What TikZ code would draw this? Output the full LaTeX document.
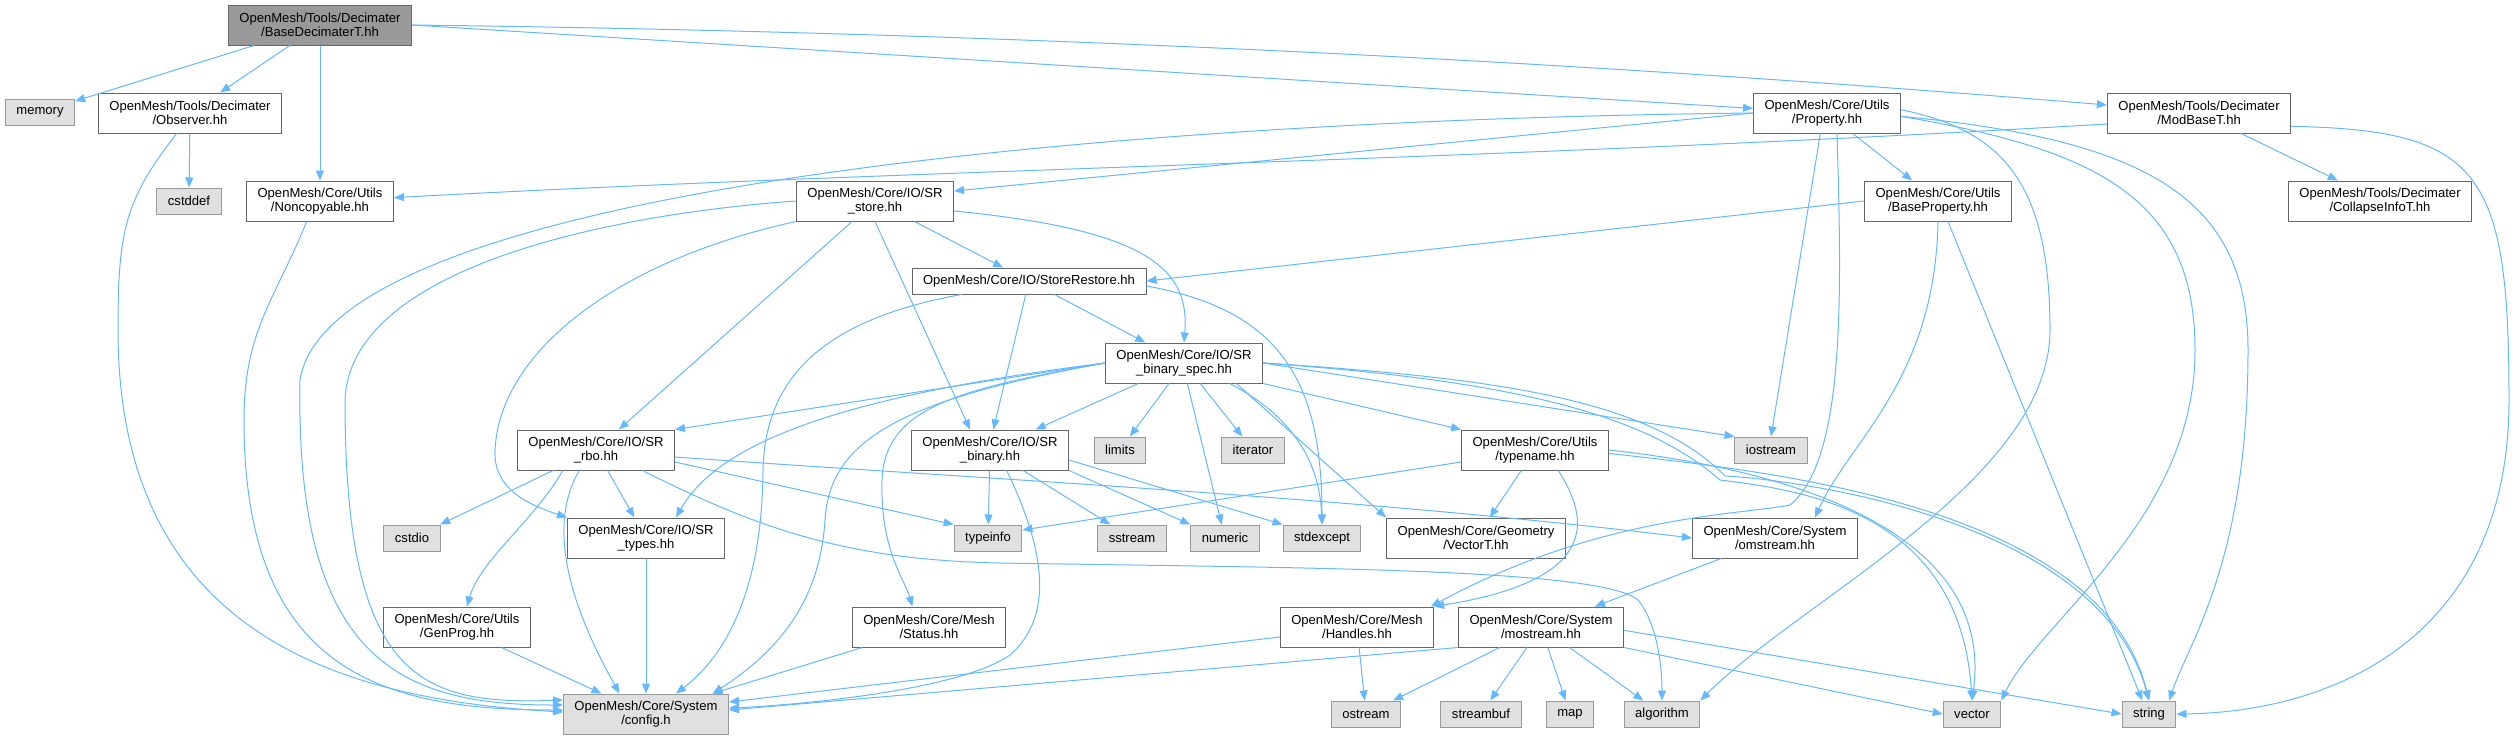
\documentclass[tikz,border=0pt]{standalone}
\usepackage{fontspec}
\setmainfont{Liberation Sans}
\usetikzlibrary{arrows.meta}

\definecolor{depblue}{HTML}{63B8FF}
\definecolor{hdrline}{HTML}{666666}
\definecolor{sysline}{HTML}{999999}
\definecolor{sysfill}{HTML}{E0E0E0}
\definecolor{topfill}{HTML}{999999}

\tikzset{
	header/.style={draw=hdrline, fill=white, line width=0.3mm, align=center,
		inner xsep=3.3mm, inner ysep=0mm, minimum height=12mm,
		font=\fontsize{11.15pt}{12.2pt}\selectfont},
	syshdr/.style={header, draw=sysline, fill=sysfill, minimum height=7.8mm},
	dep/.style={draw=depblue, line width=0.3mm, -{Triangle[length=3mm,width=2.4mm]}}
}

\begin{document}
\begin{tikzpicture}[x=0.3mm, y=-0.3mm]
	\useasboundingbox (0,0) rectangle (2516,740);

	% files
	\node[header, fill=topfill] (base) at (320,25) {OpenMesh/Tools/Decimater\\/BaseDecimaterT.hh};
	\node[syshdr] (memory) at (40,112) {memory};
	\node[header] (observer) at (190,113) {OpenMesh/Tools/Decimater\\/Observer.hh};
	\node[header] (property) at (1827,113) {OpenMesh/Core/Utils\\/Property.hh};
	\node[header] (modbase) at (2199,113) {OpenMesh/Tools/Decimater\\/ModBaseT.hh};
	\node[syshdr] (cstddef) at (189,201) {cstddef};
	\node[header] (noncopy) at (320,201) {OpenMesh/Core/Utils\\/Noncopyable.hh};
	\node[header] (srstore) at (875,201) {OpenMesh/Core/IO/SR\\\_store.hh};
	\node[header] (baseprop) at (1938,201) {OpenMesh/Core/Utils\\/BaseProperty.hh};
	\node[header] (collapse) at (2380,201) {OpenMesh/Tools/Decimater\\/CollapseInfoT.hh};
	\node[header, minimum height=7.8mm] (storerestore) at (1029,281) {OpenMesh/Core/IO/StoreRestore.hh};
	\node[header] (srspec) at (1184,363) {OpenMesh/Core/IO/SR\\\_binary\_spec.hh};
	\node[header] (srrbo) at (596,450) {OpenMesh/Core/IO/SR\\\_rbo.hh};
	\node[header] (srbinary) at (990,450) {OpenMesh/Core/IO/SR\\\_binary.hh};
	\node[syshdr] (limits) at (1120,450) {limits};
	\node[syshdr] (iterator) at (1253,450) {iterator};
	\node[header] (typename) at (1535,450) {OpenMesh/Core/Utils\\/typename.hh};
	\node[syshdr] (iostream) at (1771,450) {iostream};
	\node[syshdr] (cstdio) at (412,538) {cstdio};
	\node[header] (srtypes) at (646,538) {OpenMesh/Core/IO/SR\\\_types.hh};
	\node[syshdr] (typeinfo) at (988,538) {typeinfo};
	\node[syshdr] (sstream) at (1132,538) {sstream};
	\node[syshdr] (numeric) at (1225,538) {numeric};
	\node[syshdr] (stdexcept) at (1322,538) {stdexcept};
	\node[header] (vectort) at (1476,538) {OpenMesh/Core/Geometry\\/VectorT.hh};
	\node[header] (omstream) at (1775,538) {OpenMesh/Core/System\\/omstream.hh};
	\node[header] (genprog) at (457,627) {OpenMesh/Core/Utils\\/GenProg.hh};
	\node[header] (status) at (929,627) {OpenMesh/Core/Mesh\\/Status.hh};
	\node[header] (handles) at (1357,627) {OpenMesh/Core/Mesh\\/Handles.hh};
	\node[header] (mostream) at (1541,627) {OpenMesh/Core/System\\/mostream.hh};
	\node[syshdr, minimum height=12mm] (config) at (646,714) {OpenMesh/Core/System\\/config.h};
	\node[syshdr] (ostream) at (1366,714) {ostream};
	\node[syshdr] (streambuf) at (1481,714) {streambuf};
	\node[syshdr] (map) at (1570,714) {map};
	\node[syshdr] (algorithm) at (1662,714) {algorithm};
	\node[syshdr] (vector) at (1972,714) {vector};
	\node[syshdr] (string) at (2149,714) {string};

	% BaseDecimaterT.hh
	\draw[dep] (base) -- (memory);
	\draw[dep] (base) -- (observer);
	\draw[dep] (base) -- (noncopy);
	\draw[dep] (base.east) -- (property);
	\draw[dep] (base.east) .. controls (977,32) and (1542,58) .. ([yshift=2.4mm]modbase.west);

	% Observer.hh, Noncopyable.hh
	\draw[dep] (observer) -- (cstddef);
	\draw[dep] ([xshift=-4mm]observer.south) .. controls (125,200) and (118,230) .. (118,330)
		.. controls (118,640) and (350,700) .. ([yshift=0.6mm]config.west);
	\draw[dep] ([xshift=-4mm]noncopy.south) .. controls (275,300) and (244,330) .. (244,420)
		.. controls (244,670) and (380,710) .. ([yshift=1.2mm]config.west);

	% Property.hh
	\draw[dep] (property.west) -- ([yshift=3mm]srstore.east);
	\draw[dep] (property) -- (baseprop);
	\draw[dep] (property.west) .. controls (1100,120) and (330,190) .. (300,380)
		.. controls (295,660) and (400,705) .. ([yshift=2.7mm]config.west);
	\draw[dep] ([xshift=-2mm]property.south) -- (iostream.north);
	\draw[dep] ([xshift=3mm]property.south) .. controls (1842,300) and (1845,460) .. (1790,505)
		.. controls (1740,515) and (1600,515) .. ([xshift=-1mm]handles.north east);
	\draw[dep] ([yshift=1mm]property.east) .. controls (2000,130) and (2050,180) .. (2050,330)
		.. controls (2050,480) and (1800,600) .. (algorithm.north east);
	\draw[dep] ([yshift=-1mm]property.east) .. controls (2100,150) and (2195,200) .. (2195,350)
		.. controls (2195,520) and (2040,620) .. (vector.north east);
	\draw[dep] ([yshift=-1mm]property.east) .. controls (2150,140) and (2248,200) .. (2248,350)
		.. controls (2248,560) and (2190,640) .. ([xshift=6mm]string.north);

	% ModBaseT.hh
	\draw[dep] ([yshift=-3.3mm]modbase.west) .. controls (1500,160) and (900,170) .. ([yshift=1mm]noncopy.east);
	\draw[dep] (modbase) -- (collapse);
	\draw[dep] ([yshift=-4mm]modbase.east) .. controls (2480,130) and (2509,170) .. (2509,400)
		.. controls (2509,640) and (2330,712) .. (string.east);

	% SR_store.hh
	\draw[dep] (srstore) -- (storerestore);
	\draw[dep] (srstore) -- (srrbo);
	\draw[dep] (srstore.south) -- ([xshift=-6mm]srbinary.north);
	\draw[dep] ([yshift=-3mm]srstore.east) .. controls (1150,230) and (1190,270) .. (srspec.north);
	\draw[dep] (srstore.south west) .. controls (620,260) and (500,350) .. (495,450)
		.. controls (493,490) and (530,505) .. (srtypes.north west);
	\draw[dep] (srstore.west) .. controls (600,215) and (350,270) .. (345,400)
		.. controls (345,680) and (420,705) .. ([yshift=4.2mm]config.west);

	% BaseProperty.hh
	\draw[dep] (baseprop.west) -- (storerestore.east);
	\draw[dep] (baseprop.south) .. controls (1935,380) and (1850,440) .. ([xshift=12mm]omstream.north);
	\draw[dep] ([xshift=3mm]baseprop.south) -- ([xshift=-2mm]string.north);

	% StoreRestore.hh
	\draw[dep] (storerestore) -- (srspec);
	\draw[dep] (storerestore) -- ([xshift=1mm]srbinary.north);
	\draw[dep] ([xshift=15mm]storerestore.south west) .. controls (820,320) and (765,380) .. (763,470)
		.. controls (762,600) and (720,660) .. ([xshift=9mm]config.north);
	\draw[dep] ([yshift=-1.5mm]storerestore.east) .. controls (1280,310) and (1322,380) .. (stdexcept.north);

	% SR_binary_spec.hh
	\draw[dep] (srspec.west) -- (srrbo.north east);
	\draw[dep] (srspec.west) .. controls (850,395) and (720,440) .. ([xshift=9mm]srtypes.north);
	\draw[dep] (srspec.west) .. controls (900,400) and (830,440) .. (825,520)
		.. controls (820,600) and (780,650) .. ([xshift=20mm]config.north);
	\draw[dep] (srspec.west) .. controls (950,390) and (885,410) .. (882,480)
		.. controls (880,550) and (905,580) .. ([xshift=-5mm]status.north);
	\draw[dep] (srspec) -- (srbinary);
	\draw[dep] (srspec) -- (limits);
	\draw[dep] (srspec) -- (iterator);
	\draw[dep] ([xshift=1mm]srspec.south) -- (numeric);
	\draw[dep] ([xshift=-10mm]srspec.south east) .. controls (1300,420) and (1320,470) .. (stdexcept.north);
	\draw[dep] ([xshift=-8mm]srspec.south east) -- (vectort.north west);
	\draw[dep] (srspec.south east) -- (typename.north west);
	\draw[dep] (srspec.east) -- (iostream.north west);
	\draw[dep] (srspec.east) .. controls (1500,380) and (1640,410) .. (1720,480)
		.. controls (1800,490) and (1960,510) .. (vector.north);
	\draw[dep] (srspec.east) .. controls (1500,378) and (1650,400) .. (1725,476)
		.. controls (1800,480) and (2100,520) .. (string.north);

	% SR_rbo.hh
	\draw[dep] (srrbo) -- (cstdio);
	\draw[dep] ([xshift=-10mm]srrbo.south) .. controls (535,520) and (480,560) .. ([xshift=3mm]genprog.north);
	\draw[dep] (srrbo) -- (srtypes);
	\draw[dep] ([xshift=-5mm]srrbo.south) .. controls (538,540) and (590,640) .. ([xshift=-8mm]config.north);
	\draw[dep] ([yshift=-3.6mm]srrbo.east) -- (typeinfo.north west);
	\draw[dep] ([yshift=-2.1mm]srrbo.east) .. controls (1014,481) and (1352,497) .. (omstream.west);
	\draw[dep] ([xshift=14mm]srrbo.south) .. controls (760,530) and (850,560) .. (1000,563)
		.. controls (1300,568) and (1600,568) .. (1638,600)
		.. controls (1655,620) and (1662,660) .. (algorithm.north);

	% SR_binary.hh
	\draw[dep] (srbinary) -- (typeinfo);
	\draw[dep] (srbinary) -- (sstream);
	\draw[dep] (srbinary.south east) -- (numeric.north west);
	\draw[dep] ([yshift=-3mm]srbinary.east) -- (stdexcept.north west);
	\draw[dep] ([xshift=5mm]srbinary.south) .. controls (1050,560) and (1050,620) .. (1010,655)
		.. controls (960,690) and (800,705) .. ([yshift=1.8mm]config.east);

	% typename.hh
	\draw[dep] ([yshift=-3.6mm]typename.west) -- ([yshift=2.4mm]typeinfo.east);
	\draw[dep] (typename) -- (vectort);
	\draw[dep] ([xshift=7mm]typename.south) .. controls (1590,520) and (1600,580) .. (handles.north east);
	\draw[dep] (typename.east) .. controls (1700,460) and (2000,500) .. (vector.north);
	\draw[dep] ([yshift=-1mm]typename.east) .. controls (1750,470) and (2100,500) .. (string.north);

	% the rest
	\draw[dep] (srtypes) -- (config);
	\draw[dep] (genprog) -- (config);
	\draw[dep] (status) -- (config);
	\draw[dep] (handles) -- (ostream);
	\draw[dep] ([yshift=-3mm]handles.west) -- ([yshift=3.6mm]config.east);
	\draw[dep] (omstream) -- (mostream);
	\draw[dep] (mostream) -- (ostream);
	\draw[dep] (mostream) -- (streambuf);
	\draw[dep] (mostream) -- (map);
	\draw[dep] (mostream) -- (algorithm);
	\draw[dep] (mostream.south west) -- ([yshift=1.2mm]config.east);
	\draw[dep] (mostream.south east) -- (vector.west);
	\draw[dep] ([yshift=-1mm]mostream.east) -- (string.west);
\end{tikzpicture}
\end{document}
